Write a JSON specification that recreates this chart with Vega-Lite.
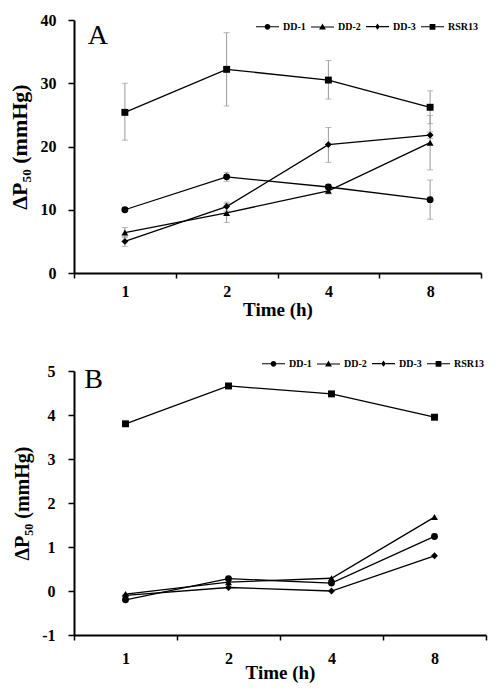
{
  "$schema": "https://vega.github.io/schema/vega-lite/v6.json",
  "padding": {"left": 8, "top": 12, "right": 5, "bottom": 5},
  "spacing": 32,
  "background": "white",
  "config": {
    "view": {"stroke": null},
    "font": "Liberation Serif",
    "axis": {
      "grid": false,
      "domainColor": "black",
      "domainWidth": 2,
      "tickColor": "black",
      "tickWidth": 1.5,
      "labelFont": "Liberation Serif",
      "labelFontWeight": "bold",
      "labelColor": "black",
      "titleFont": "Liberation Serif",
      "titleFontWeight": "bold",
      "titleColor": "black",
      "labelOverlap": false
    },
    "legend": {
      "labelFont": "Liberation Serif", "labelFontWeight": "bold", "labelFontSize": 10, "labelColor": "black"
    }
  },
  "datasets": {
    "a": [
      {"time": 1, "series": "DD-1", "value": 10.0, "lo": 9.7, "hi": 10.3},
      {"time": 2, "series": "DD-1", "value": 15.2, "lo": 14.5, "hi": 15.9},
      {"time": 4, "series": "DD-1", "value": 13.6, "lo": 13.2, "hi": 14.0},
      {"time": 8, "series": "DD-1", "value": 11.6, "lo": 8.5, "hi": 14.7},
      {"time": 1, "series": "DD-2", "value": 6.4, "lo": 5.6, "hi": 7.2},
      {"time": 2, "series": "DD-2", "value": 9.5, "lo": 8.0, "hi": 11.0},
      {"time": 4, "series": "DD-2", "value": 13.0, "lo": 12.5, "hi": 13.5},
      {"time": 8, "series": "DD-2", "value": 20.6, "lo": 16.3, "hi": 24.9},
      {"time": 1, "series": "DD-3", "value": 5.0, "lo": 4.2, "hi": 5.8},
      {"time": 2, "series": "DD-3", "value": 10.5, "lo": 9.8, "hi": 11.2},
      {"time": 4, "series": "DD-3", "value": 20.3, "lo": 17.5, "hi": 23.0},
      {"time": 8, "series": "DD-3", "value": 21.8, "lo": 21.3, "hi": 22.3},
      {"time": 1, "series": "RSR13", "value": 25.4, "lo": 21.0, "hi": 30.0},
      {"time": 2, "series": "RSR13", "value": 32.2, "lo": 26.4, "hi": 38.0},
      {"time": 4, "series": "RSR13", "value": 30.5, "lo": 27.5, "hi": 33.6},
      {"time": 8, "series": "RSR13", "value": 26.2, "lo": 23.6, "hi": 28.8}
    ],
    "b": [
      {"time": 1, "series": "DD-1", "value": -0.20},
      {"time": 2, "series": "DD-1", "value": 0.28},
      {"time": 4, "series": "DD-1", "value": 0.18},
      {"time": 8, "series": "DD-1", "value": 1.24},
      {"time": 1, "series": "DD-2", "value": -0.07},
      {"time": 2, "series": "DD-2", "value": 0.20},
      {"time": 4, "series": "DD-2", "value": 0.29},
      {"time": 8, "series": "DD-2", "value": 1.68},
      {"time": 1, "series": "DD-3", "value": -0.10},
      {"time": 2, "series": "DD-3", "value": 0.08},
      {"time": 4, "series": "DD-3", "value": 0.00},
      {"time": 8, "series": "DD-3", "value": 0.80},
      {"time": 1, "series": "RSR13", "value": 3.80},
      {"time": 2, "series": "RSR13", "value": 4.66},
      {"time": 4, "series": "RSR13", "value": 4.48},
      {"time": 8, "series": "RSR13", "value": 3.95}
    ]
  },
  "vconcat": [
    {
      "width": 407,
      "height": 253,
      "data": {"name": "a"},
      "resolve": {"scale": {"shape": "independent"}, "legend": {"shape": "independent"}},
      "layer": [
        {
          "mark": {"type": "rule", "color": "#9a9a9a", "strokeWidth": 1},
          "encoding": {
            "x": {"field": "time", "type": "ordinal", "scale": {"type": "band", "paddingInner": 0, "paddingOuter": 0},
              "axis": {"title": "Time (h)", "labelAngle": 0, "tickBand": "extent", "labelFontSize": 16, "titleFontSize": 19, "tickSize": 5, "labelPadding": 5, "titlePadding": 1}},
            "y": {"field": "lo", "type": "quantitative", "title": "ΔP₅₀ (mmHg)",
              "scale": {"domain": [0, 40], "nice": false},
              "axis": {"values": [0, 5, 10, 15, 20, 25, 30, 35, 40], "labelOverlap": false, "labelFontSize": 16, "titleFontSize": 22, "tickSize": 6, "labelPadding": 12, "titlePadding": 9}},
            "y2": {"field": "hi"}
          }
        },
        {
          "mark": {"type": "tick", "color": "#9a9a9a", "orient": "horizontal", "size": 6, "thickness": 1},
          "encoding": {
            "x": {"field": "time", "type": "ordinal"},
            "y": {"field": "lo", "type": "quantitative", "title": "ΔP₅₀ (mmHg)"}
          }
        },
        {
          "mark": {"type": "tick", "color": "#9a9a9a", "orient": "horizontal", "size": 6, "thickness": 1},
          "encoding": {
            "x": {"field": "time", "type": "ordinal"},
            "y": {"field": "hi", "type": "quantitative", "title": "ΔP₅₀ (mmHg)"}
          }
        },
        {
          "mark": {"type": "line", "color": "black", "strokeWidth": 1.3},
          "encoding": {
            "x": {"field": "time", "type": "ordinal"},
            "y": {"field": "value", "type": "quantitative", "title": "ΔP₅₀ (mmHg)"},
            "detail": {"field": "series", "type": "nominal"}
          }
        },
        {
          "mark": {"type": "point", "filled": true, "color": "black", "opacity": 1, "size": 48},
          "encoding": {
            "x": {"field": "time", "type": "ordinal"},
            "y": {"field": "value", "type": "quantitative", "title": "ΔP₅₀ (mmHg)"},
            "shape": {
              "field": "series", "type": "nominal",
              "scale": {"domain": ["DD-1", "DD-2", "DD-3", "RSR13"], "range": ["circle", "triangle-up", "diamond", "square"]},
              "legend": null
            }
          }
        },
        {
          "mark": {"type": "point", "filled": true, "color": "black", "opacity": 0, "size": 48},
          "encoding": {
            "x": {"field": "time", "type": "ordinal"},
            "y": {"field": "value", "type": "quantitative", "title": "ΔP₅₀ (mmHg)"},
            "shape": {
              "field": "series", "type": "nominal",
              "scale": {"domain": ["DD-1", "DD-2", "DD-3", "RSR13"], "range": [
                "M-1,-0.045H-0.24V0.045H-1ZM0.24,-0.045H1V0.045H0.24ZM0.25,0A0.25,0.25,0,1,1,-0.25,0A0.25,0.25,0,1,1,0.25,0Z",
                "M-1,-0.045H-0.17V0.045H-1ZM0.17,-0.045H1V0.045H0.17ZM0,-0.3L0.3,0.22L-0.3,0.22Z",
                "M-1,-0.045H-0.19V0.045H-1ZM0.19,-0.045H1V0.045H0.19ZM0,-0.28L0.2,0L0,0.28L-0.2,0Z",
                "M-1,-0.045H-0.25V0.045H-1ZM0.25,-0.045H1V0.045H0.25ZM-0.25,-0.25H0.25V0.25H-0.25Z"
              ]},
              "legend": {
                "title": null, "orient": "none", "direction": "horizontal", "columns": 4,
                "legendX": 181, "legendY": -6,
                "symbolSize": 529, "symbolOpacity": 1,
                "symbolFillColor": "black",
                "labelOffset": 3, "columnPadding": 2
              }
            }
          }
        },
        {
          "data": {"values": [{"label": "A"}]},
          "mark": {"type": "text", "font": "Liberation Serif", "fontSize": 28, "fontWeight": "normal", "color": "black", "align": "center", "baseline": "middle", "dx": -27},
          "encoding": {
            "x": {"datum": 1, "type": "ordinal"},
            "y": {"datum": 37.5, "type": "quantitative"},
            "text": {"field": "label", "type": "nominal"}
          }
        }
      ]
    },
    {
      "width": 412,
      "height": 264,
      "data": {"name": "b"},
      "resolve": {"scale": {"shape": "independent"}, "legend": {"shape": "independent"}},
      "layer": [
        {
          "mark": {"type": "line", "color": "black", "strokeWidth": 1.3},
          "encoding": {
            "x": {"field": "time", "type": "ordinal", "scale": {"type": "band", "paddingInner": 0, "paddingOuter": 0},
              "axis": {"title": "Time (h)", "labelAngle": 0, "tickBand": "extent", "labelFontSize": 16, "titleFontSize": 19, "tickSize": 5, "labelPadding": 10, "titlePadding": -3}},
            "y": {"field": "value", "type": "quantitative", "title": "ΔP₅₀ (mmHg)",
              "scale": {"domain": [-1, 5], "nice": false},
              "axis": {"values": [-1, 0, 1, 2, 3, 4, 5], "labelExpr": "'' + datum.value", "labelOverlap": false, "labelFontSize": 16, "titleFontSize": 20, "tickSize": 6, "labelPadding": 13, "titlePadding": 9}},
            "detail": {"field": "series", "type": "nominal"}
          }
        },
        {
          "mark": {"type": "point", "filled": true, "color": "black", "opacity": 1, "size": 48},
          "encoding": {
            "x": {"field": "time", "type": "ordinal"},
            "y": {"field": "value", "type": "quantitative", "title": "ΔP₅₀ (mmHg)"},
            "shape": {
              "field": "series", "type": "nominal",
              "scale": {"domain": ["DD-1", "DD-2", "DD-3", "RSR13"], "range": ["circle", "triangle-up", "diamond", "square"]},
              "legend": null
            }
          }
        },
        {
          "mark": {"type": "point", "filled": true, "color": "black", "opacity": 0, "size": 48},
          "encoding": {
            "x": {"field": "time", "type": "ordinal"},
            "y": {"field": "value", "type": "quantitative", "title": "ΔP₅₀ (mmHg)"},
            "shape": {
              "field": "series", "type": "nominal",
              "scale": {"domain": ["DD-1", "DD-2", "DD-3", "RSR13"], "range": [
                "M-1,-0.045H-0.24V0.045H-1ZM0.24,-0.045H1V0.045H0.24ZM0.25,0A0.25,0.25,0,1,1,-0.25,0A0.25,0.25,0,1,1,0.25,0Z",
                "M-1,-0.045H-0.17V0.045H-1ZM0.17,-0.045H1V0.045H0.17ZM0,-0.3L0.3,0.22L-0.3,0.22Z",
                "M-1,-0.045H-0.19V0.045H-1ZM0.19,-0.045H1V0.045H0.19ZM0,-0.28L0.2,0L0,0.28L-0.2,0Z",
                "M-1,-0.045H-0.25V0.045H-1ZM0.25,-0.045H1V0.045H0.25ZM-0.25,-0.25H0.25V0.25H-0.25Z"
              ]},
              "legend": {
                "title": null, "orient": "none", "direction": "horizontal", "columns": 4,
                "legendX": 187, "legendY": -20,
                "symbolSize": 529, "symbolOpacity": 1,
                "symbolFillColor": "black",
                "labelOffset": 3, "columnPadding": 2
              }
            }
          }
        },
        {
          "data": {"values": [{"label": "B"}]},
          "mark": {"type": "text", "font": "Liberation Serif", "fontSize": 28, "fontWeight": "normal", "color": "black", "align": "center", "baseline": "middle", "dx": -32},
          "encoding": {
            "x": {"datum": 1, "type": "ordinal"},
            "y": {"datum": 4.79, "type": "quantitative"},
            "text": {"field": "label", "type": "nominal"}
          }
        }
      ]
    }
  ]
}
